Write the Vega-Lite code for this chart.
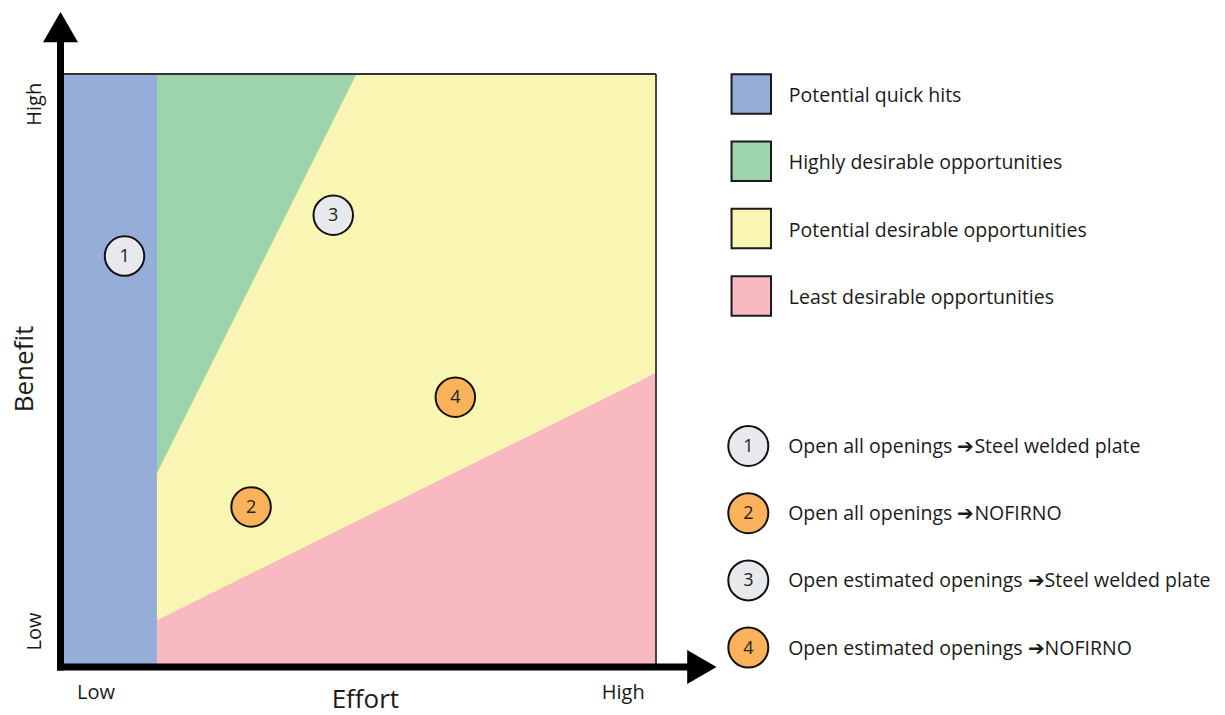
{
  "$schema": "https://vega.github.io/schema/vega-lite/v6.json",
  "width": 1225,
  "height": 715,
  "autosize": {"type": "fit", "contains": "padding"},
  "padding": 0,
  "background": "white",
  "config": {"view": {"stroke": null}, "font": "Open Sans"},
  "datasets": {
    "rects": [
      {"zone": "Potential desirable opportunities", "effort_from": 16.2, "effort_to": 100, "benefit_from": 0, "benefit_to": 100},
      {"zone": "Potential quick hits", "effort_from": 0, "effort_to": 16.2, "benefit_from": 0, "benefit_to": 100}
    ],
    "wedges": [
      {"zone": "Highly desirable opportunities", "effort": 16.2, "benefit_low": 32.7, "benefit_high": 100},
      {"zone": "Highly desirable opportunities", "effort": 49.7, "benefit_low": 100, "benefit_high": 100},
      {"zone": "Least desirable opportunities", "effort": 16.2, "benefit_low": 0, "benefit_high": 7.9},
      {"zone": "Least desirable opportunities", "effort": 100, "benefit_low": 0, "benefit_high": 49.6}
    ],
    "zones": [
      {"zone": "Potential quick hits", "rank": 1},
      {"zone": "Highly desirable opportunities", "rank": 2},
      {"zone": "Potential desirable opportunities", "rank": 3},
      {"zone": "Least desirable opportunities", "rank": 4}
    ],
    "options": [
      {"id": 1, "option": "Open all openings ➔Steel welded plate", "material": "Steel welded plate", "effort": 10.75, "benefit": 69.3},
      {"id": 2, "option": "Open all openings ➔NOFIRNO", "material": "NOFIRNO", "effort": 32.0, "benefit": 27.0},
      {"id": 3, "option": "Open estimated openings ➔Steel welded plate", "material": "Steel welded plate", "effort": 45.8, "benefit": 76.2},
      {"id": 4, "option": "Open estimated openings ➔NOFIRNO", "material": "NOFIRNO", "effort": 66.3, "benefit": 45.5}
    ]
  },
  "layer": [
    {
      "data": {"values": [{}]},
      "layer": [
        {
          "data": {"name": "rects"},
          "mark": {"type": "rect"},
          "encoding": {
            "x": {"field": "effort_from", "type": "quantitative", "scale": {"domain": [-10.16, 195.55], "nice": false, "zero": false}, "axis": null},
            "x2": {"field": "effort_to"},
            "y": {"field": "benefit_from", "type": "quantitative", "scale": {"domain": [-8.09, 112.48], "nice": false, "zero": false}, "axis": null},
            "y2": {"field": "benefit_to"},
            "color": {"field": "zone", "type": "nominal", "legend": null, "scale": {"domain": ["Potential quick hits", "Highly desirable opportunities", "Potential desirable opportunities", "Least desirable opportunities"], "range": ["#95ADD8", "#9DD4AB", "#F9F6B4", "#F9B9C0"]}}
          }
        },
        {
          "data": {"name": "wedges"},
          "mark": {"type": "area", "opacity": 1},
          "encoding": {
            "x": {"field": "effort", "type": "quantitative", "scale": {"domain": [-10.16, 195.55], "nice": false, "zero": false}, "axis": null},
            "y": {"field": "benefit_low", "type": "quantitative", "stack": null, "scale": {"domain": [-8.09, 112.48], "nice": false, "zero": false}, "axis": null},
            "y2": {"field": "benefit_high"},
            "color": {"field": "zone", "type": "nominal", "legend": null, "scale": {"domain": ["Potential quick hits", "Highly desirable opportunities", "Potential desirable opportunities", "Least desirable opportunities"], "range": ["#95ADD8", "#9DD4AB", "#F9F6B4", "#F9B9C0"]}}
          }
        },
        {
          "mark": {"type": "rule", "stroke": "#333333", "strokeWidth": 1.8},
          "encoding": {
            "x": {"datum": 0, "type": "quantitative"},
            "x2": {"datum": 100},
            "y": {"datum": 100, "type": "quantitative"}
          }
        },
        {
          "mark": {"type": "rule", "stroke": "#333333", "strokeWidth": 1.8},
          "encoding": {
            "x": {"datum": 100, "type": "quantitative"},
            "y": {"datum": 0, "type": "quantitative"},
            "y2": {"datum": 100}
          }
        },
        {
          "mark": {"type": "rule", "stroke": "black", "strokeWidth": 7, "strokeCap": "square"},
          "encoding": {
            "x": {"datum": 0, "type": "quantitative"},
            "y": {"datum": 0, "type": "quantitative"},
            "y2": {"datum": 105.6}
          }
        },
        {
          "mark": {"type": "rule", "stroke": "black", "strokeWidth": 7, "strokeCap": "square"},
          "encoding": {
            "x": {"datum": 0, "type": "quantitative"},
            "x2": {"datum": 104.8},
            "y": {"datum": 0, "type": "quantitative"}
          }
        },
        {
          "mark": {"type": "point", "shape": "triangle-up", "size": 1225, "filled": true, "fill": "black", "opacity": 1, "strokeWidth": 0},
          "encoding": {
            "x": {"datum": 0, "type": "quantitative"},
            "y": {"datum": 107.9, "type": "quantitative"}
          }
        },
        {
          "mark": {"type": "point", "shape": "triangle-right", "size": 1150, "filled": true, "fill": "black", "opacity": 1, "strokeWidth": 0},
          "encoding": {
            "x": {"datum": 107.7, "type": "quantitative"},
            "y": {"datum": 0, "type": "quantitative"}
          }
        },
        {
          "data": {"name": "options"},
          "mark": {"type": "point", "shape": "circle", "size": 1560, "filled": true, "opacity": 1, "stroke": "#111111", "strokeWidth": 2},
          "encoding": {
            "x": {"field": "effort", "type": "quantitative"},
            "y": {"field": "benefit", "type": "quantitative"},
            "fill": {"field": "material", "type": "nominal", "legend": null, "scale": {"domain": ["Steel welded plate", "NOFIRNO"], "range": ["#E8E9EC", "#FBB35B"]}}
          }
        },
        {
          "data": {"name": "options"},
          "mark": {"type": "text", "fontSize": 18, "color": "#222222", "align": "center", "baseline": "middle", "dy": 1},
          "encoding": {
            "x": {"field": "effort", "type": "quantitative"},
            "y": {"field": "benefit", "type": "quantitative"},
            "text": {"field": "id"}
          }
        },
        {
          "mark": {"type": "text", "fontSize": 20, "color": "#1a1a1a", "angle": 270, "align": "center", "baseline": "middle"},
          "encoding": {
            "x": {"datum": -4.2, "type": "quantitative"},
            "y": {"datum": 94.9, "type": "quantitative"},
            "text": {"value": "High"}
          }
        },
        {
          "mark": {"type": "text", "fontSize": 20, "color": "#1a1a1a", "angle": 270, "align": "center", "baseline": "middle"},
          "encoding": {
            "x": {"datum": -4.2, "type": "quantitative"},
            "y": {"datum": 6.0, "type": "quantitative"},
            "text": {"value": "Low"}
          }
        },
        {
          "mark": {"type": "text", "fontSize": 20, "color": "#1a1a1a", "align": "center", "baseline": "middle"},
          "encoding": {
            "x": {"datum": 5.96, "type": "quantitative"},
            "y": {"datum": -4.3, "type": "quantitative"},
            "text": {"value": "Low"}
          }
        },
        {
          "mark": {"type": "text", "fontSize": 20, "color": "#1a1a1a", "align": "center", "baseline": "middle"},
          "encoding": {
            "x": {"datum": 94.5, "type": "quantitative"},
            "y": {"datum": -4.3, "type": "quantitative"},
            "text": {"value": "High"}
          }
        },
        {
          "mark": {"type": "text", "fontSize": 26, "color": "#1a1a1a", "align": "center", "baseline": "middle"},
          "encoding": {
            "x": {"datum": 51.2, "type": "quantitative"},
            "y": {"datum": -5.55, "type": "quantitative"},
            "text": {"value": "Effort"}
          }
        },
        {
          "mark": {"type": "text", "fontSize": 26, "color": "#1a1a1a", "angle": 270, "align": "center", "baseline": "middle"},
          "encoding": {
            "x": {"datum": -6.0, "type": "quantitative"},
            "y": {"datum": 50.25, "type": "quantitative"},
            "text": {"value": "Benefit"}
          }
        }
      ]
    },
    {
      "data": {"name": "zones"},
      "layer": [
        {
          "mark": {"type": "point", "shape": "square", "size": 1560, "filled": true, "opacity": 1, "stroke": "#1a1a1a", "strokeWidth": 2},
          "encoding": {
            "x": {"datum": 116.0, "type": "quantitative", "scale": {"domain": [-10.16, 195.55], "nice": false, "zero": false}},
            "y": {"field": "rank", "type": "quantitative", "axis": null, "scale": {"domain": [-0.3967, 10.2273], "reverse": true, "nice": false, "zero": false}},
            "color": {"field": "zone", "type": "nominal", "legend": null, "scale": {"domain": ["Potential quick hits", "Highly desirable opportunities", "Potential desirable opportunities", "Least desirable opportunities"], "range": ["#95ADD8", "#9DD4AB", "#F9F6B4", "#F9B9C0"]}}
          }
        },
        {
          "mark": {"type": "text", "fontSize": 19.5, "color": "#1a1a1a", "align": "left", "baseline": "middle", "dy": 2},
          "encoding": {
            "x": {"datum": 122.3, "type": "quantitative"},
            "y": {"field": "rank", "type": "quantitative", "axis": null},
            "text": {"field": "zone"}
          }
        }
      ]
    },
    {
      "data": {"name": "options"},
      "layer": [
        {
          "mark": {"type": "point", "shape": "circle", "size": 1600, "filled": true, "opacity": 1, "stroke": "#111111", "strokeWidth": 2},
          "encoding": {
            "x": {"datum": 115.5, "type": "quantitative"},
            "y": {"field": "id", "type": "quantitative", "axis": null, "scale": {"domain": [-5.6369, 5.003], "reverse": true, "nice": false, "zero": false}},
            "fill": {"field": "material", "type": "nominal", "legend": null, "scale": {"domain": ["Steel welded plate", "NOFIRNO"], "range": ["#E8E9EC", "#FBB35B"]}}
          }
        },
        {
          "mark": {"type": "text", "fontSize": 18, "color": "#222222", "align": "center", "baseline": "middle", "dy": 1},
          "encoding": {
            "x": {"datum": 115.5, "type": "quantitative"},
            "y": {"field": "id", "type": "quantitative", "axis": null},
            "text": {"field": "id"}
          }
        },
        {
          "mark": {"type": "text", "fontSize": 19.5, "color": "#1a1a1a", "align": "left", "baseline": "middle", "dy": 1},
          "encoding": {
            "x": {"datum": 122.2, "type": "quantitative"},
            "y": {"field": "id", "type": "quantitative", "axis": null},
            "text": {"field": "option"}
          }
        }
      ]
    }
  ],
  "resolve": {"scale": {"y": "independent"}}
}
